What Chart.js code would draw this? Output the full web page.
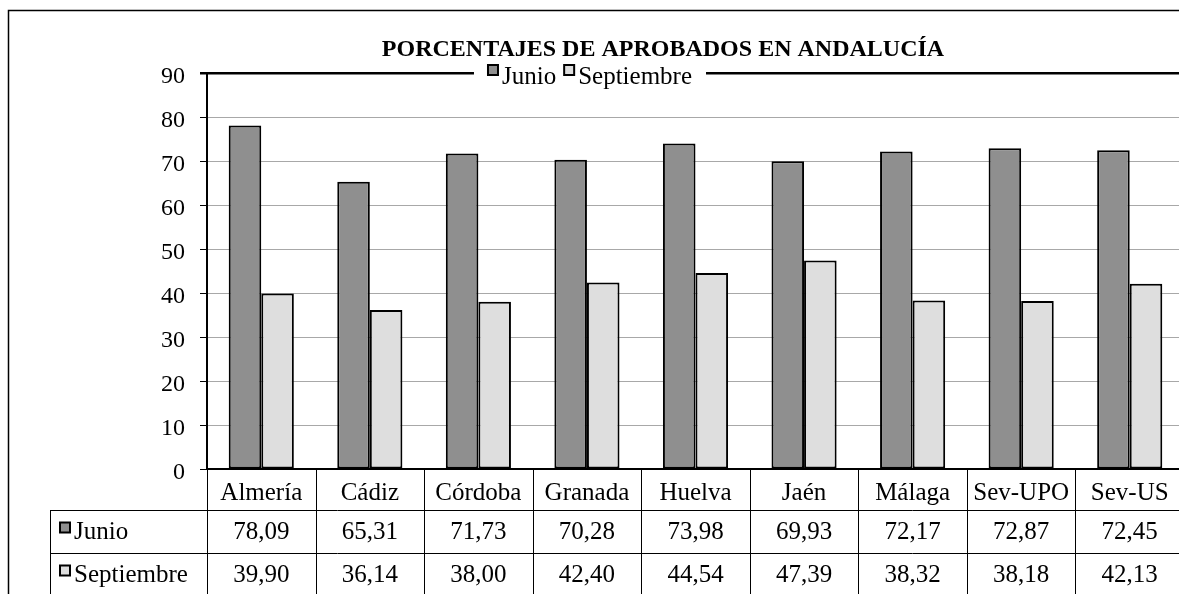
<!DOCTYPE html>
<html>
<head>
<meta charset="utf-8">
<script src="https://cdn.jsdelivr.net/npm/chart.js@4"></script>
<style>
  html, body { margin: 0; padding: 0; overflow: hidden; background: #fff; }
</style>
</head>
<body>
<canvas id="chart" width="1200" height="594"></canvas>
<script>
const categories = ['Almería', 'Cádiz', 'Córdoba', 'Granada', 'Huelva', 'Jaén', 'Málaga', 'Sev-UPO', 'Sev-US'];
const junio = [78.09, 65.31, 71.73, 70.28, 73.98, 69.93, 72.17, 72.87, 72.45];
const septiembre = [39.90, 36.14, 38.00, 42.40, 44.54, 47.39, 38.32, 38.18, 42.13];
const seriesNames = ['Junio', 'Septiembre'];
const seriesColors = ['#8f8f8f', '#dedede'];
const yMin = 0, yMax = 90, yStep = 10;
const title = 'PORCENTAJES DE APROBADOS EN ANDALUCÍA';

const serif = '"Liberation Serif", "Times New Roman", serif';

function fmt(v) {
  return v.toFixed(2).replace('.', ',');
}

function marker(ctx, x, y, color) {
  ctx.fillStyle = color;
  ctx.fillRect(x, y, 10, 10);
  ctx.strokeStyle = '#000';
  ctx.lineWidth = 2;
  ctx.strokeRect(x, y, 10, 10);
}

// frame, title, legend and the data table under the axis
const extras = {
  id: 'extras',
  beforeDraw(chart) {
    const ctx = chart.ctx;
    ctx.save();
    ctx.fillStyle = '#fff';
    ctx.fillRect(0, 0, chart.width, chart.height);
    ctx.strokeStyle = '#000';
    ctx.lineWidth = 1.5;
    ctx.strokeRect(8.5, 10.5, 3000, 3000);
    ctx.restore();
  },
  afterDraw(chart) {
    const ctx = chart.ctx;
    const area = chart.chartArea;
    const x = chart.scales.x;
    ctx.save();

    // title
    ctx.fillStyle = '#000';
    ctx.font = 'bold 24px ' + serif;
    ctx.textAlign = 'center';
    ctx.textBaseline = 'alphabetic';
    ctx.fillText(title, 663, 56);

    // legend over the top border
    ctx.font = '25px ' + serif;
    const w1 = ctx.measureText(seriesNames[0]).width;
    const w2 = ctx.measureText(seriesNames[1]).width;
    const legW = 14 + w1 + 8 + 14 + w2;
    let lx = 590 - legW / 2;
    ctx.fillStyle = '#fff';
    ctx.fillRect(lx - 14, area.top - 3, legW + 28, 28);
    marker(ctx, lx, 65, seriesColors[0]);
    ctx.fillStyle = '#000';
    ctx.textAlign = 'left';
    ctx.fillText(seriesNames[0], lx + 14, 84);
    lx += 14 + w1 + 8;
    marker(ctx, lx, 65, seriesColors[1]);
    ctx.fillStyle = '#000';
    ctx.fillText(seriesNames[1], lx + 14, 84);

    // table grid
    const step = (area.right - area.left) / categories.length;
    const rowTop = area.bottom + 41;
    const rowH = 43;
    ctx.strokeStyle = '#000';
    ctx.lineWidth = 1;
    ctx.beginPath();
    for (let i = 0; i <= categories.length; i++) {
      const gx = Math.round(x.getPixelForValue(i) - step / 2) + 0.5;
      ctx.moveTo(gx, area.bottom);
      ctx.lineTo(gx, chart.height + 10);
    }
    ctx.moveTo(50.5, rowTop);
    ctx.lineTo(50.5, chart.height + 10);
    for (let r = 0; r < 3; r++) {
      const gy = Math.round(rowTop + r * rowH) + 0.5;
      ctx.moveTo(50, gy);
      ctx.lineTo(chart.width, gy);
    }
    ctx.stroke();

    // row headers and values
    const rows = [junio, septiembre];
    rows.forEach((vals, r) => {
      const cy = rowTop + r * rowH + rowH / 2;
      marker(ctx, 60, cy - 9, seriesColors[r]);
      ctx.fillStyle = '#000';
      ctx.font = '25px ' + serif;
      ctx.textAlign = 'left';
      ctx.textBaseline = 'middle';
      ctx.fillText(seriesNames[r], 74, cy + 1);
      ctx.textAlign = 'center';
      vals.forEach((v, i) => {
        ctx.fillText(fmt(v), x.getPixelForValue(i), cy + 1);
      });
    });
    ctx.restore();
  }
};

const chart = new Chart(document.getElementById('chart').getContext('2d'), {
  type: 'bar',
  data: {
    labels: categories,
    datasets: [
      {
        label: seriesNames[0],
        data: junio,
        backgroundColor: seriesColors[0],
        borderColor: '#000',
        borderWidth: 2,
        borderSkipped: false
      },
      {
        label: seriesNames[1],
        data: septiembre,
        backgroundColor: seriesColors[1],
        borderColor: '#000',
        borderWidth: 2,
        borderSkipped: false
      }
    ]
  },
  options: {
    responsive: false,
    animation: false,
    layout: { padding: { top: 73, right: 16, bottom: 84, left: 0 } },
    datasets: { bar: { categoryPercentage: 0.6, barPercentage: 1 } },
    plugins: {
      legend: { display: false },
      title: { display: false },
      tooltip: { enabled: false }
    },
    scales: {
      x: {
        grid: { display: false, drawTicks: false },
        border: { display: true, color: '#000', width: 2 },
        ticks: {
          color: '#000',
          font: { family: serif, size: 25 },
          padding: 9,
          maxRotation: 0,
          autoSkip: false
        },
        afterFit(scale) { scale.height = 41; }
      },
      y: {
        min: yMin,
        max: yMax,
        ticks: {
          stepSize: yStep,
          color: '#000',
          font: { family: serif, size: 24 },
          padding: 15,
          labelOffset: 4
        },
        grid: {
          color: c => (c.tick && c.tick.value === yMax) ? '#000' : '#a8a8a8',
          lineWidth: c => (c.tick && c.tick.value === yMax) ? 2.5 : 1,
          tickColor: '#000',
          tickLength: 7
        },
        border: { display: true, color: '#000', width: 2 },
        afterFit(scale) { scale.width = 207; }
      }
    }
  },
  plugins: [extras]
});
</script>
</body>
</html>
